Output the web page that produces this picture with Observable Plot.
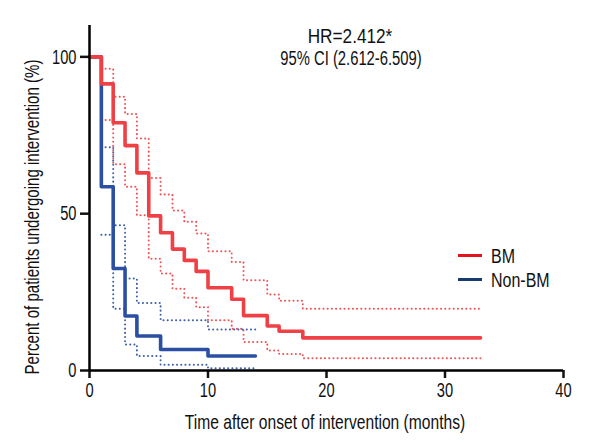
<!DOCTYPE html>
<html>
<head>
<meta charset="utf-8">
<script src="https://cdn.jsdelivr.net/npm/d3@7"></script>
<script src="https://cdn.jsdelivr.net/npm/@observablehq/plot@0.6"></script>
<style>
  html, body { margin: 0; padding: 0; background: #fff; }
  #wrap { position: relative; width: 600px; height: 440px; font-family: "Liberation Sans", Arial, sans-serif; color: #111; }
  .ov { position: absolute; white-space: nowrap; line-height: 1; }
  .sw { position: absolute; width: 24px; height: 3px; }
</style>
</head>
<body>
<div id="wrap"></div>
<script>
// ---- data ----
const bmTimes   = [0, 1, 2, 3, 4, 5, 6, 7, 8, 9, 10, 12, 13, 15, 16, 18, 33];
const bmSurv    = [100, 91.4, 79.0, 71.7, 63.0, 49.3, 43.9, 38.7, 35.1, 31.6, 26.4, 22.7, 17.5, 14.2, 12.5, 10.4, 10.4];
const bmCiTimes = [1, 2, 3, 4, 5, 6, 7, 8, 9, 10, 12, 13, 15, 16, 18, 33];
const bmUpper   = [96.2, 87.3, 81.8, 74.0, 61.4, 56.1, 51.0, 47.4, 43.7, 38.0, 34.6, 28.8, 24.2, 22.2, 19.7, 19.7];
const bmLower   = [79.9, 65.8, 58.6, 49.5, 35.6, 30.9, 26.1, 23.2, 20.2, 16.0, 13.3, 9.1, 6.4, 5.3, 3.9, 3.9];

const nbTimes   = [0, 1, 2, 3, 4, 6, 10, 14];
const nbSurv    = [100, 58.6, 32.5, 17.4, 11.0, 6.7, 4.6, 4.6];
const nbCiTimes = [1, 2, 3, 4, 6, 10, 14];
const nbUpper   = [71.2, 46.3, 29.3, 21.5, 16.0, 13.1, 13.1];
const nbLower   = [43.3, 19.7, 8.3, 4.6, 1.8, 0.7, 0.7];

const xTicks = [0, 10, 20, 30, 40];
const yTicks = [0, 50, 100];
const seriesNames = ["BM", "Non-BM"];
const annotation = ["HR=2.412*", "95% CI (2.612-6.509)"];
const xTitle = "Time after onset of intervention (months)";
const yTitle = "Percent of patients undergoing intervention (%)";

const RED = "#ef4045", BLUE = "#2a4fa3";
const zip = (ts, vs) => ts.map((t, i) => ({t, v: vs[i]}));

const dotted = {x: "t", y: "v", curve: "step-after", strokeWidth: 2, strokeDasharray: "0.1,4.1", strokeLinecap: "round", strokeOpacity: 0.9};
const solid = {x: "t", y: "v", curve: "step-after", strokeWidth: 3.6};

const plot = Plot.plot({
  width: 600, height: 440,
  marginLeft: 89, marginRight: 37, marginTop: 25, marginBottom: 70,
  style: {fontFamily: "'Liberation Sans', Arial, sans-serif", fontSize: "21px", color: "#111"},
  x: {domain: [0, 40]},
  y: {domain: [0, 110]},
  marks: [
    Plot.line(zip(bmCiTimes, bmUpper), {...dotted, stroke: RED}),
    Plot.line(zip(bmCiTimes, bmLower), {...dotted, stroke: RED}),
    Plot.line(zip(nbCiTimes, nbUpper), {...dotted, stroke: BLUE}),
    Plot.line(zip(nbCiTimes, nbLower), {...dotted, stroke: BLUE}),
    Plot.line(zip(nbTimes, nbSurv), {...solid, stroke: BLUE}),
    Plot.line(zip(bmTimes, bmSurv), {...solid, stroke: RED}),
    Plot.axisX({ticks: xTicks, tickSize: 8, tickPadding: 4, strokeWidth: 2.5, label: null, fontSize: 21}),
    Plot.axisY({ticks: yTicks, tickSize: 9, tickPadding: 4, strokeWidth: 2.5, label: null, fontSize: 21}),
    Plot.ruleY([0], {stroke: "#000", strokeWidth: 2.5}),
    Plot.ruleX([0], {stroke: "#000", strokeWidth: 2.5})
  ]
});

const wrap = document.getElementById("wrap");
wrap.appendChild(plot);

// condense the tick labels horizontally (reference uses a condensed face)
const S = 0.7;
plot.querySelectorAll("g[aria-label='x-axis tick label'] text").forEach(t => {
  const b = t.getBBox(); const cx = b.x + b.width / 2;
  t.setAttribute("transform", (t.getAttribute("transform") || "") + ` translate(${cx},0) scale(${S},1) translate(${-cx},0)`);
});
plot.querySelectorAll("g[aria-label='y-axis tick label'] text").forEach(t => {
  const b = t.getBBox(); const cx = b.x + b.width;
  t.setAttribute("transform", (t.getAttribute("transform") || "") + ` translate(${cx},0) scale(${S},1) translate(${-cx},0)`);
});

function addText(txt, left, top, size, scale, rot) {
  const d = document.createElement("div");
  d.className = "ov";
  d.textContent = txt;
  d.style.left = left + "px"; d.style.top = top + "px"; d.style.fontSize = size + "px";
  wrap.appendChild(d);
  d.style.transform = `translate(-50%,-50%) ${rot ? "rotate(-90deg)" : ""} scaleX(${scale})`;
  return d;
}
function fitScale(txt, size, targetW) {
  const d = document.createElement("div");
  d.className = "ov"; d.textContent = txt; d.style.fontSize = size + "px"; d.style.visibility = "hidden";
  wrap.appendChild(d);
  const s = targetW / d.offsetWidth;
  d.remove();
  return s;
}
// annotation
addText(annotation[0], 350, 36, 20, 0.86);
addText(annotation[1], 351, 58, 20, 0.74);
// axis titles
addText(xTitle, 325, 421, 21, fitScale(xTitle, 21, 280));
addText(yTitle, 31, 217, 21, fitScale(yTitle, 21, 315), true);

// legend
const legColors = ["#e3121b", "#163c6c"];
seriesNames.forEach((name, i) => {
  const y = 255 + i * 24;
  const sw = document.createElement("div");
  sw.className = "sw"; sw.style.background = legColors[i];
  sw.style.left = "458px"; sw.style.top = (y - 1.5) + "px";
  wrap.appendChild(sw);
  const d = document.createElement("div");
  d.className = "ov"; d.textContent = name; d.style.fontSize = "20px";
  d.style.left = "491px"; d.style.top = (y + 1) + "px";
  wrap.appendChild(d);
  d.style.transformOrigin = "0 50%";
  d.style.transform = `translateY(-50%) scaleX(0.8)`;
});
</script>
</body>
</html>
